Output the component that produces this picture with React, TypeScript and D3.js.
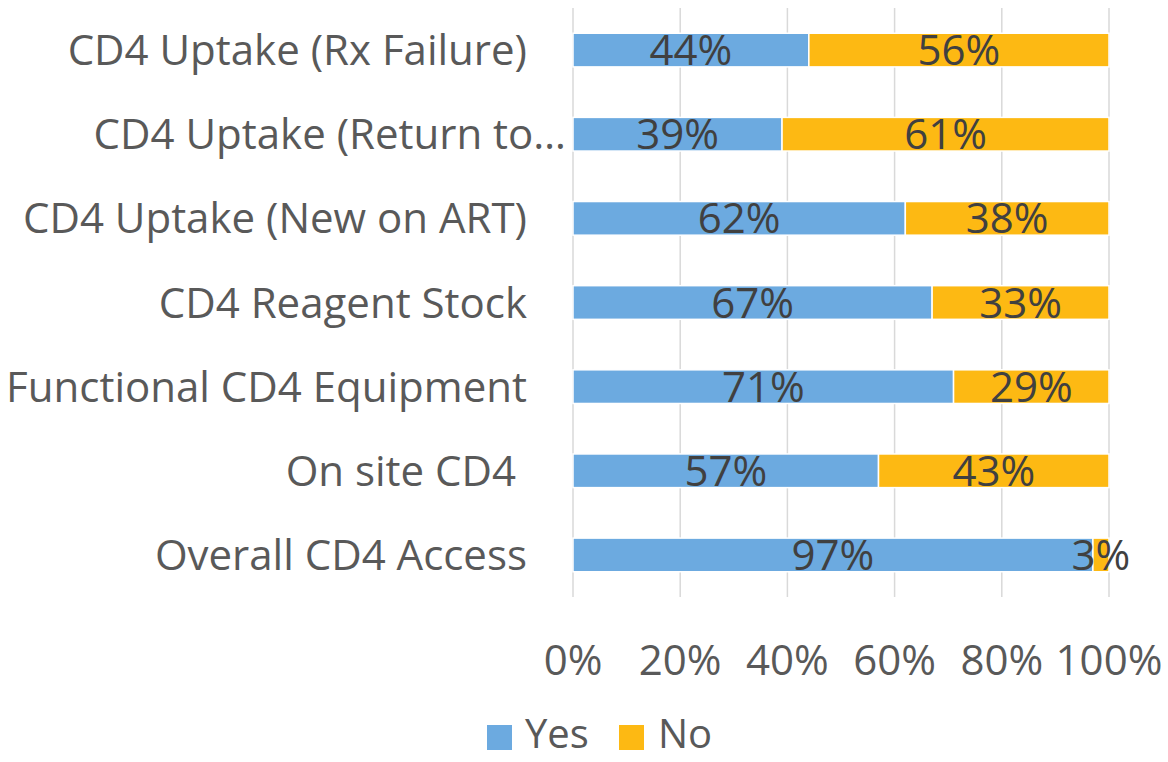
import React from "react";
import * as d3 from "d3";

const categories = [
  "CD4 Uptake (Rx Failure)",
  "CD4 Uptake (Return to…",
  "CD4 Uptake (New on ART)",
  "CD4 Reagent Stock",
  "Functional CD4 Equipment",
  "On site CD4",
  "Overall CD4 Access",
];
const yesValues = [44, 39, 62, 67, 71, 57, 97];
const noValues = [56, 61, 38, 33, 29, 43, 3];
const seriesNames = ["Yes", "No"];
const seriesColors = ["#6CAAE0", "#FDB913"];
const xTicks = [0, 20, 40, 60, 80, 100];

const W = 1168;
const H = 762;
const FONT = "'Open Sans', 'DejaVu Sans', sans-serif";
const FS = 42;
const LEG_FS = 40;

export default function App() {
  const x = d3.scaleLinear().domain([0, 100]).range([573, 1109]);
  const y = d3
    .scaleBand<string>()
    .domain(categories)
    .range([8, 597])
    .paddingInner(0.6)
    .paddingOuter(0.3);

  const rows = categories.map((c, i) => ({ cat: c, Yes: yesValues[i], No: noValues[i] }));
  const stack = d3.stack<any>().keys(seriesNames)(rows);

  const labelEnd = (c: string) => (c.endsWith("…") ? 566 : c === "On site CD4" ? 516 : 527);

  return (
    <div style={{ position: "absolute", left: 0, top: 0 }}>
      <svg width={W} height={H} style={{ display: "block", background: "#fff" }} fontFamily={FONT}>
        {xTicks.map((t) => (
          <line key={t} x1={x(t)} x2={x(t)} y1={8} y2={597} stroke="#D9D9D9" strokeWidth={1.5} />
        ))}
        {stack.map((s, si) =>
          s.map((d, i) => {
            const x0 = x(d[0]);
            const x1 = x(d[1]);
            const yy = y(categories[i])!;
            return (
              <rect
                key={si + "-" + i}
                x={x0}
                y={yy}
                width={x1 - x0}
                height={y.bandwidth()}
                fill={seriesColors[si]}
                stroke="#fff"
                strokeWidth={1.5}
              />
            );
          })
        )}
        {stack.map((s, si) =>
          s.map((d, i) => (
            <text
              key={"l" + si + "-" + i}
              x={(x(d[0]) + x(d[1])) / 2}
              y={y(categories[i])! + y.bandwidth() / 2}
              dy="0.36em"
              textAnchor="middle"
              fontSize={FS}
              fill="#404040"
            >
              {(d[1] - d[0]) + "%"}
            </text>
          ))
        )}
        {categories.map((c) => (
          <text
            key={c}
            x={labelEnd(c)}
            y={y(c)! + y.bandwidth() / 2}
            dy="0.36em"
            textAnchor="end"
            fontSize={FS}
            fill="#595959"
          >
            {c}
          </text>
        ))}
        {xTicks.map((t) => (
          <text key={"t" + t} x={x(t)} y={660} dy="0.36em" textAnchor="middle" fontSize={FS} fill="#595959">
            {t + "%"}
          </text>
        ))}
        <g>
          <rect x={487} y={725} width={25} height={25} fill={seriesColors[0]} />
          <text x={525} y={734} dy="0.36em" fontSize={LEG_FS} fill="#595959">
            {seriesNames[0]}
          </text>
          <rect x={619} y={725} width={25} height={25} fill={seriesColors[1]} />
          <text x={658} y={734} dy="0.36em" fontSize={LEG_FS} fill="#595959">
            {seriesNames[1]}
          </text>
        </g>
      </svg>
    </div>
  );
}
